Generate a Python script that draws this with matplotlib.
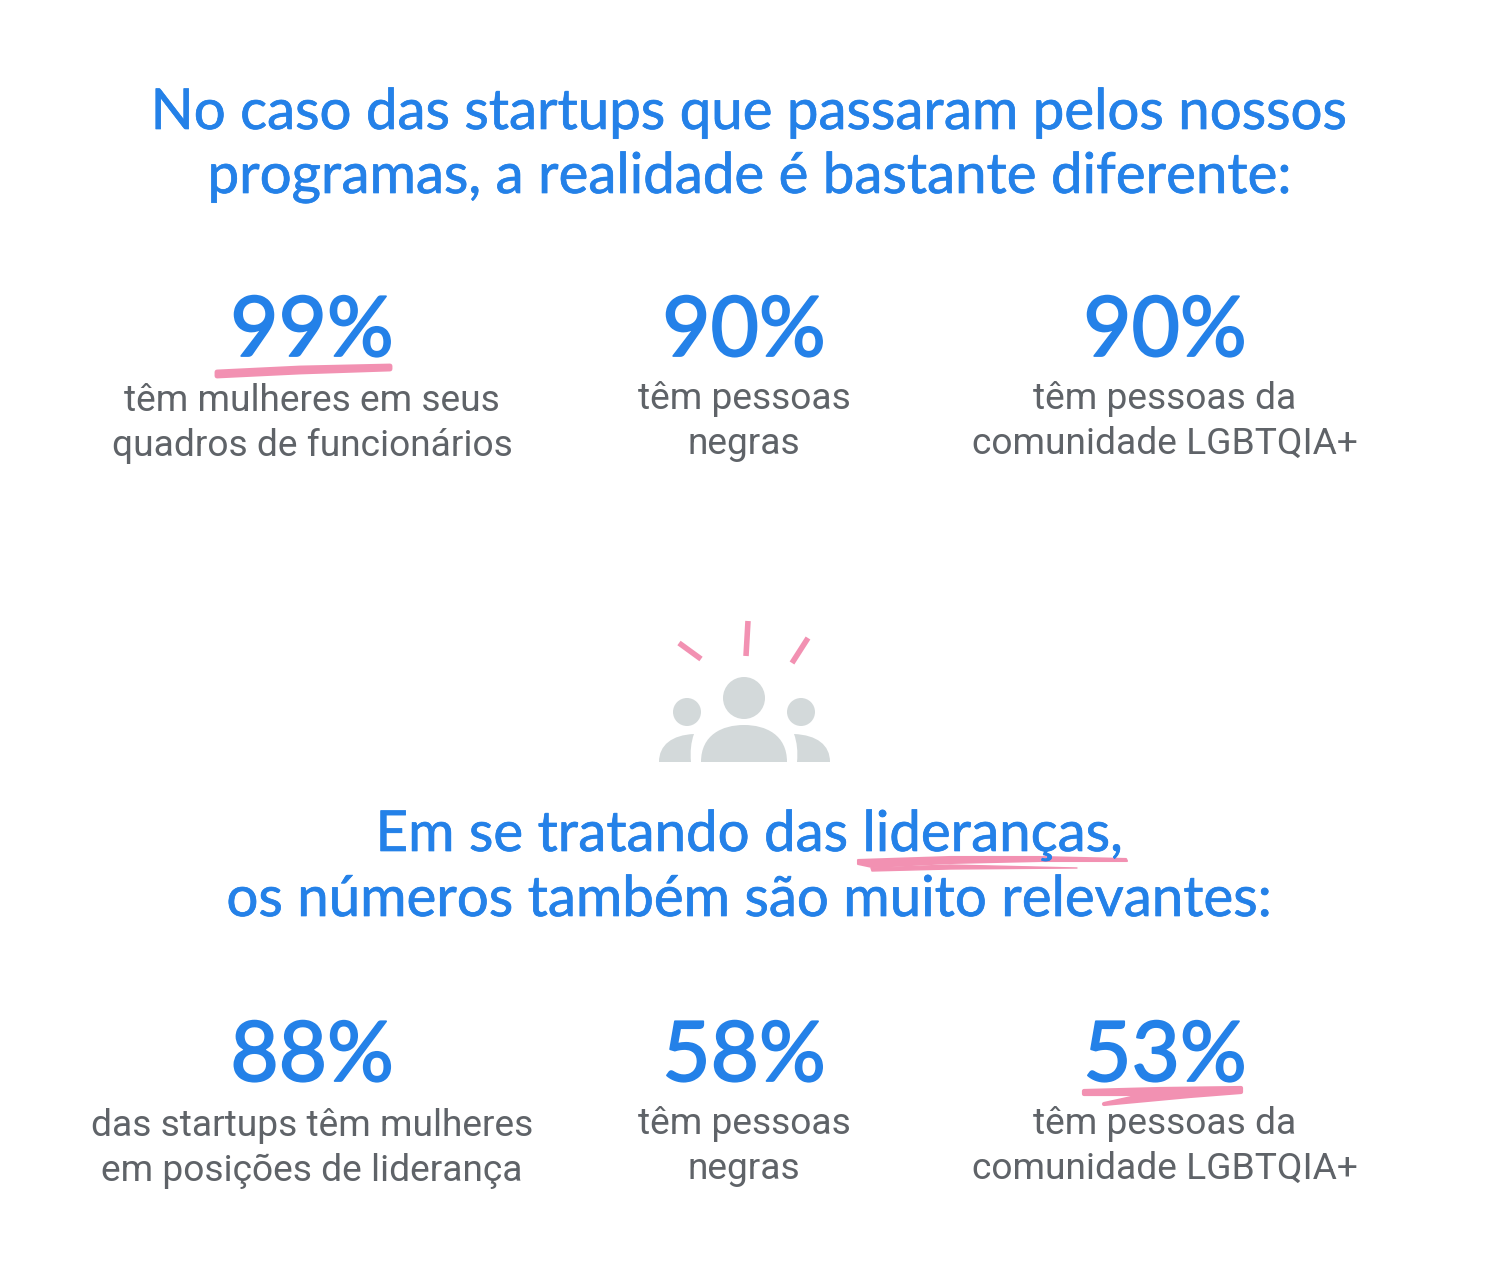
import matplotlib
matplotlib.use('Agg')
import matplotlib.pyplot as plt
import matplotlib.patheffects as pe
from matplotlib.patches import Circle, PathPatch, Polygon
from matplotlib.path import Path

BLUE = '#2481e8'
GREY = '#5f6368'
PINK = '#f291b2'
ICON = '#d3d9da'

HEAD_1 = ['No caso das startups que passaram pelos nossos',
          'programas, a realidade é bastante diferente:']
HEAD_2 = ['Em se tratando das lideranças,',
          'os números também são muito relevantes:']
STATS_1 = ['99%', '90%', '90%']
STATS_2 = ['88%', '58%', '53%']
LABELS_1 = ['têm mulheres em seus\nquadros de funcionários',
            'têm pessoas\nnegras',
            'têm pessoas da\ncomunidade LGBTQIA+']
LABELS_2 = ['das startups têm mulheres\nem posições de liderança',
            'têm pessoas\nnegras',
            'têm pessoas da\ncomunidade LGBTQIA+']
COL_X = [312, 744, 1165]

plt.rcParams['font.family'] = ['Lato', 'DejaVu Sans']

fig = plt.figure(figsize=(14.88, 12.8), dpi=100)
ax = fig.add_axes([0, 0, 1, 1])
ax.set_xlim(0, 1488)
ax.set_ylim(1280, 0)
ax.axis('off')


def head(lines, ys):
    for s, y in zip(lines, ys):
        ax.text(749, y, s, ha='center', va='baseline', color=BLUE, fontsize=40.6,
                family=['Lato', 'DejaVu Sans'], zorder=3,
                path_effects=[pe.withStroke(linewidth=0.5, foreground=BLUE)])


def stats(vals, labels, y_num, y_lab):
    for i, (v, lab) in enumerate(zip(vals, labels)):
        ax.text(COL_X[i], y_num, v, ha='center', va='baseline', color=BLUE, fontsize=60,
                family=['Lato', 'DejaVu Sans'], zorder=3,
                path_effects=[pe.withStroke(linewidth=1.3, foreground=BLUE)])
        for j, part in enumerate(lab.split('\n')):
            # first column sits 2px lower in the original
            ax.text(COL_X[i], y_lab[j] + (2 if i == 0 else 0), part, ha='center', va='baseline',
                    color=GREY, fontsize=26.7, family=['Roboto', 'DejaVu Sans'], zorder=3)


head(HEAD_1, [129, 193])
head(HEAD_2, [851, 916])
stats(STATS_1, LABELS_1, 356, [409, 454])
stats(STATS_2, LABELS_2, 1081, [1134, 1179])

# hand drawn underlines
ax.add_patch(Polygon([(217, 372), (300, 368), (390, 366), (390, 369), (300, 372), (217, 376)],
                     closed=True, fc=PINK, ec=PINK, lw=3.5, joinstyle='round', zorder=2))
ax.add_patch(Polygon([(858, 860), (950, 857), (1040, 857), (1126, 859), (1127, 861), (1040, 861), (950, 863), (872, 867), (858, 864)],
                     closed=True, fc=PINK, ec=PINK, lw=1.5, joinstyle='round', zorder=2))
ax.add_patch(Polygon([(871, 868), (950, 865), (1077, 868), (950, 869), (872, 871)],
                     closed=True, fc=PINK, ec=PINK, lw=1, joinstyle='round', zorder=2))
ax.add_patch(Polygon([(1084, 1091), (1160, 1089), (1241, 1088), (1241, 1092), (1190, 1096), (1104, 1104), (1150, 1094), (1084, 1094)],
                     closed=True, fc=PINK, ec=PINK, lw=3, joinstyle='round', zorder=2))

# people icon
for cx, cy, r in [(744, 698, 21), (687, 712, 14), (801, 712, 14)]:
    ax.add_patch(Circle((cx, cy), r, fc=ICON, ec='none'))
C = Path.CURVE4
L = Path.LINETO
M = Path.MOVETO
ax.add_patch(PathPatch(Path([(701, 762), (701, 735), (722, 725), (744, 725), (766, 725), (787, 735), (787, 762), (701, 762)],
                            [M, C, C, C, C, C, C, L]), fc=ICON, ec='none'))
ax.add_patch(PathPatch(Path([(659, 762), (659, 745), (672, 735), (694, 734), (691, 742), (690, 752), (691, 762), (659, 762)],
                            [M, C, C, C, C, C, C, L]), fc=ICON, ec='none'))
ax.add_patch(PathPatch(Path([(830, 762), (830, 745), (817, 735), (794, 734), (797, 742), (798, 752), (797, 762), (830, 762)],
                            [M, C, C, C, C, C, C, L]), fc=ICON, ec='none'))

# rays above the icon
for x0, y0, x1, y1 in [(679, 643, 701, 659), (748, 621, 746, 656), (808, 638, 792, 663)]:
    ax.plot([x0, x1], [y0, y1], color=PINK, lw=4, solid_capstyle='butt')

fig.savefig('out.png', dpi=100, facecolor='white')
